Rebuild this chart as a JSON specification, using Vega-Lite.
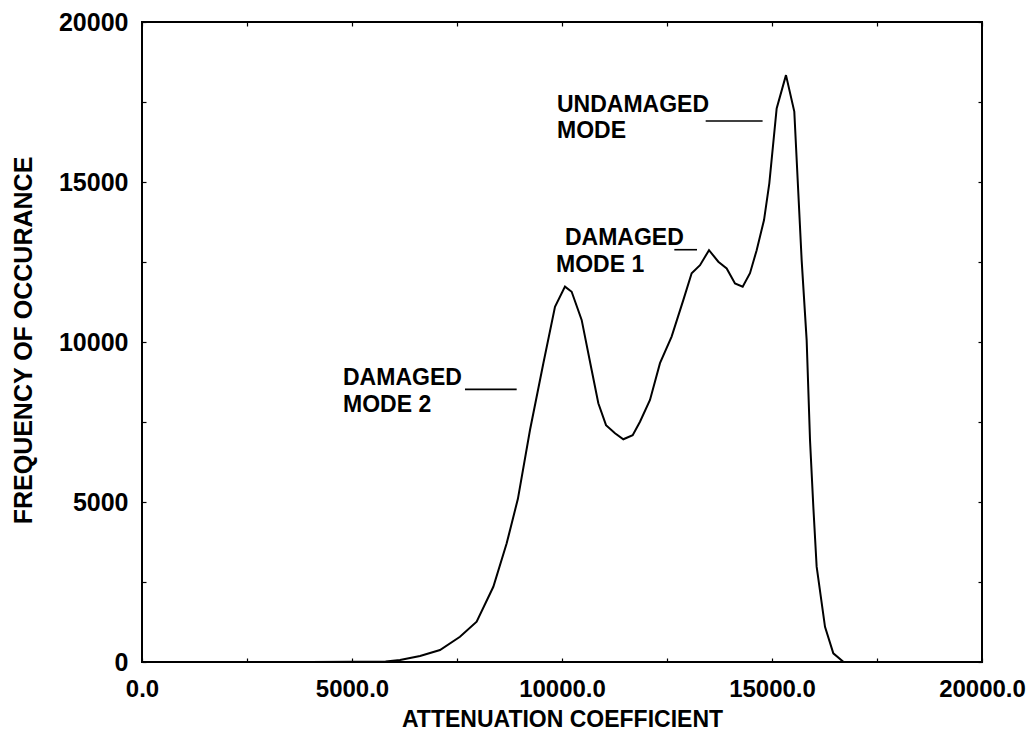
{
  "$schema": "https://vega.github.io/schema/vega-lite/v6.json",
  "width": 840,
  "height": 640,
  "autosize": {"type": "none"},
  "padding": {"left": 142, "top": 22, "right": 48, "bottom": 72},
  "background": "white",
  "config": {
    "view": {"stroke": "black", "strokeWidth": 2},
    "axis": {
      "domain": false,
      "grid": false,
      "ticks": true,
      "tickColor": "black",
      "tickWidth": 1.2,
      "tickSize": -4,
      "labelFlush": false,
      "labelOverlap": false,
      "labelFont": "Liberation Sans",
      "labelFontWeight": "bold",
      "labelFontSize": 24,
      "labelColor": "black",
      "titleFont": "Liberation Sans",
      "titleFontWeight": "bold",
      "titleFontSize": 23,
      "titleColor": "black"
    }
  },
  "datasets": {
    "curve": [
      {"x": 0, "y": 0}, {"x": 2000, "y": 0}, {"x": 4000, "y": 0}, {"x": 5000, "y": 5},
      {"x": 5800, "y": 15}, {"x": 6143, "y": 60}, {"x": 6620, "y": 190}, {"x": 7095, "y": 375},
      {"x": 7571, "y": 790}, {"x": 7968, "y": 1260}, {"x": 8365, "y": 2350}, {"x": 8683, "y": 3710},
      {"x": 8950, "y": 5100}, {"x": 9238, "y": 7250}, {"x": 9555, "y": 9330}, {"x": 9833, "y": 11100},
      {"x": 10071, "y": 11730}, {"x": 10230, "y": 11570}, {"x": 10468, "y": 10690}, {"x": 10706, "y": 9125},
      {"x": 10865, "y": 8085}, {"x": 11048, "y": 7400}, {"x": 11262, "y": 7150}, {"x": 11460, "y": 6960},
      {"x": 11683, "y": 7090}, {"x": 11857, "y": 7510}, {"x": 12095, "y": 8190}, {"x": 12333, "y": 9340},
      {"x": 12610, "y": 10170}, {"x": 12888, "y": 11310}, {"x": 13087, "y": 12150}, {"x": 13286, "y": 12400},
      {"x": 13500, "y": 12870}, {"x": 13722, "y": 12510}, {"x": 13921, "y": 12300}, {"x": 14119, "y": 11830},
      {"x": 14302, "y": 11730}, {"x": 14476, "y": 12150}, {"x": 14635, "y": 12870}, {"x": 14810, "y": 13810},
      {"x": 14936, "y": 14960}, {"x": 15111, "y": 17300}, {"x": 15333, "y": 18340}, {"x": 15531, "y": 17200},
      {"x": 15627, "y": 14650}, {"x": 15706, "y": 12560}, {"x": 15825, "y": 10060}, {"x": 15905, "y": 6940},
      {"x": 15984, "y": 4850}, {"x": 16063, "y": 2980}, {"x": 16262, "y": 1100}, {"x": 16460, "y": 270},
      {"x": 16698, "y": 10}, {"x": 16857, "y": 0}, {"x": 17000, "y": 0}
    ],
    "notes": [
      {"x": 9881, "y": 17190, "text": "UNDAMAGED"},
      {"x": 9881, "y": 16390, "text": "MODE"},
      {"x": 10071, "y": 13030, "text": "DAMAGED"},
      {"x": 9857, "y": 12197, "text": "MODE 1"},
      {"x": 4786, "y": 8656, "text": "DAMAGED"},
      {"x": 4786, "y": 7822, "text": "MODE 2"}
    ],
    "leaders": [
      {"x": 13421, "x2": 14776, "y": 16906},
      {"x": 12674, "x2": 13214, "y": 12884},
      {"x": 7690, "x2": 8921, "y": 8520}
    ]
  },
  "layer": [
    {
      "data": {"name": "curve"},
      "mark": {"type": "line", "color": "black", "strokeWidth": 2, "interpolate": "linear"},
      "encoding": {
        "x": {
          "field": "x", "type": "quantitative",
          "scale": {"domain": [0, 20000], "nice": false, "zero": false},
          "axis": {
            "orient": "bottom",
            "values": [0, 2500, 5000, 7500, 10000, 12500, 15000, 17500, 20000],
            "labelExpr": "datum.value % 5000 === 0 ? format(datum.value, '.1f') : ''",
            "labelPadding": 19,
            "labelBaseline": "top",
            "title": "ATTENUATION COEFFICIENT",
            "titleBaseline": "alphabetic",
            "titleY": 64,
            "titleX": 420
          }
        },
        "y": {
          "field": "y", "type": "quantitative",
          "scale": {"domain": [0, 20000], "nice": false, "zero": false},
          "axis": {
            "orient": "left",
            "values": [0, 2500, 5000, 7500, 10000, 12500, 15000, 17500, 20000],
            "labelExpr": "datum.value % 5000 === 0 ? format(datum.value, 'd') : ''",
            "labelPadding": 18,
            "labelBaseline": "middle",
            "labelFontSize": 25,
            "title": "FREQUENCY OF OCCURANCE",
            "titleFontSize": 25,
            "titleAngle": -90,
            "titleAlign": "center",
            "titleBaseline": "alphabetic",
            "titleX": -111,
            "titleY": 318
          }
        }
      }
    },
    {
      "data": {"name": "leaders"},
      "mark": {"type": "rule", "color": "black", "strokeWidth": 1.6},
      "encoding": {
        "x": {
          "field": "x", "type": "quantitative",
          "scale": {"domain": [0, 20000], "nice": false, "zero": false},
          "axis": {
            "orient": "top",
            "values": [0, 2500, 5000, 7500, 10000, 12500, 15000, 17500, 20000],
            "labels": false,
            "title": null
          }
        },
        "x2": {"field": "x2"},
        "y": {
          "field": "y", "type": "quantitative",
          "scale": {"domain": [0, 20000], "nice": false, "zero": false},
          "axis": {
            "orient": "right",
            "values": [0, 2500, 5000, 7500, 10000, 12500, 15000, 17500, 20000],
            "labels": false,
            "title": null
          }
        }
      }
    },
    {
      "data": {"name": "notes"},
      "mark": {"type": "text", "align": "left", "baseline": "alphabetic", "font": "Liberation Sans", "fontWeight": "bold", "fontSize": 23, "color": "black"},
      "encoding": {
        "x": {"field": "x", "type": "quantitative", "axis": null},
        "y": {"field": "y", "type": "quantitative", "axis": null},
        "text": {"field": "text"}
      }
    }
  ],
  "resolve": {"axis": {"x": "independent", "y": "independent"}}
}
